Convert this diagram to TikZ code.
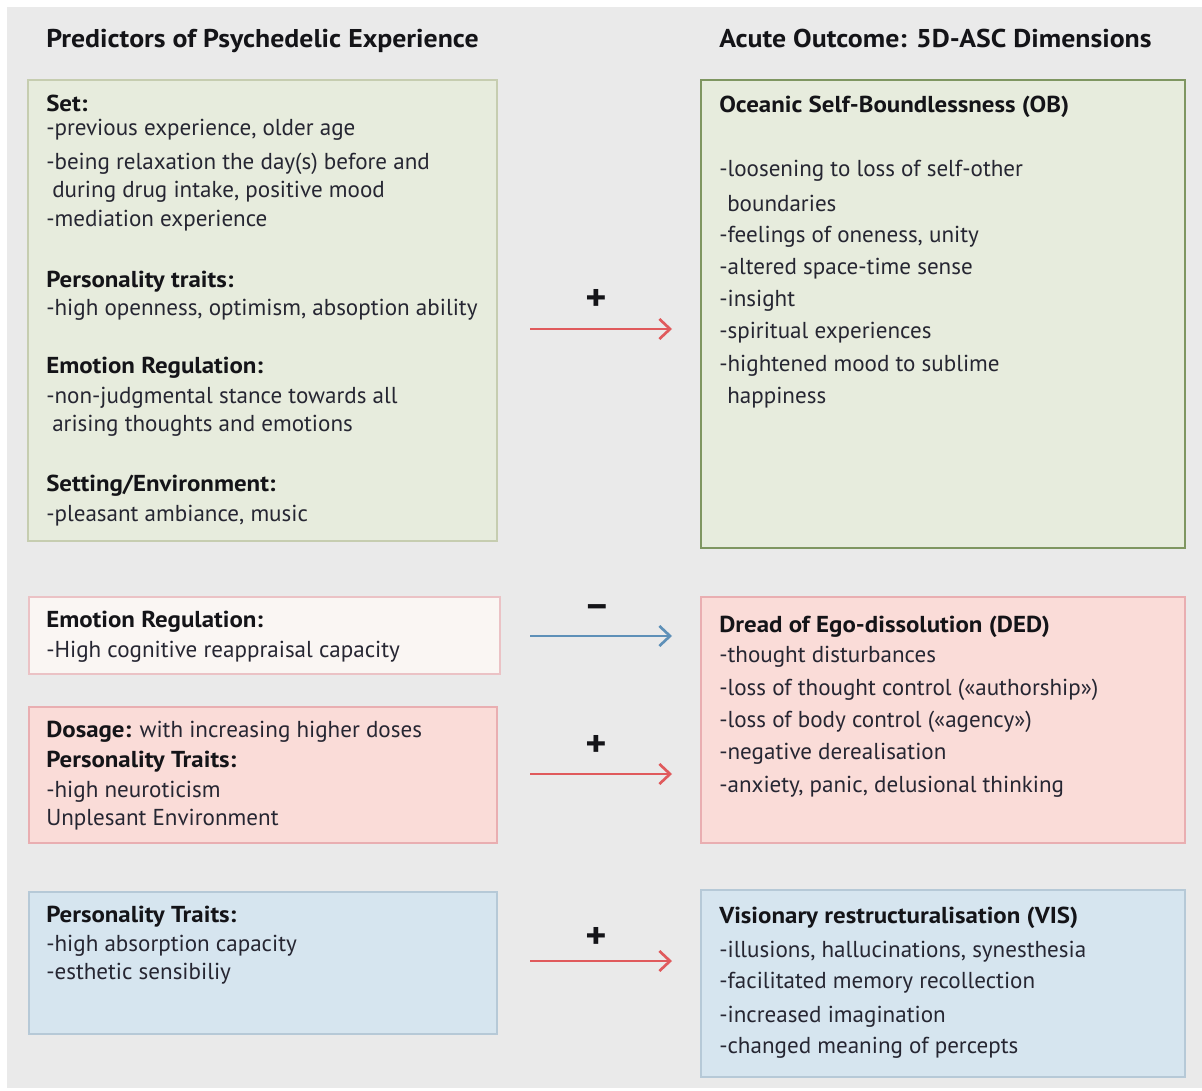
\documentclass[tikz,border=0pt]{standalone}
\usepackage{fontspec}
\setmainfont{PT Sans}[BoldFeatures={FakeStretch=1.08}]
\usetikzlibrary{arrows.meta,fit}

\definecolor{pagebg}{HTML}{EAEAEA}
\definecolor{greenfill}{HTML}{E7ECDD}
\definecolor{greenline}{HTML}{C6CDB0}
\definecolor{greendark}{HTML}{7F9661}
\definecolor{pinkfill}{HTML}{FADCD8}
\definecolor{pinkline}{HTML}{E9AEB1}
\definecolor{palefill}{HTML}{FAF6F3}
\definecolor{paleline}{HTML}{EBC2C5}
\definecolor{bluefill}{HTML}{D6E5EF}
\definecolor{blueline}{HTML}{B6C9D7}
\definecolor{bodytext}{HTML}{262632}
\definecolor{headtext}{HTML}{141418}
\definecolor{posred}{HTML}{E05A5C}
\definecolor{negblue}{HTML}{5E90B8}

\tikzset{
  box/.style={inner sep=0pt, line width=1.2pt},
  greenbox/.style={box, fill=greenfill, draw=greenline},
  obbox/.style={box, fill=greenfill, draw=greendark, line width=2pt},
  palebox/.style={box, fill=palefill, draw=paleline},
  pinkbox/.style={box, fill=pinkfill, draw=pinkline, line width=1.5pt},
  bluebox/.style={box, fill=bluefill, draw=blueline},
  txt/.style={anchor=base west, inner sep=0pt, text=bodytext,
    font=\fontsize{17.3}{20}\selectfont},
  hd/.style={txt, text=headtext, font=\fontsize{17.3}{20}\selectfont\bfseries},
  title/.style={anchor=base west, inner sep=0pt, text=headtext,
    font=\fontsize{19.3}{22}\selectfont\bfseries},
  sign/.style={inner sep=0pt, text=headtext, font=\fontsize{28}{30}\selectfont\bfseries},
  link/.style={line width=2pt, -{Straight Barb[length=8pt,width=15pt,line width=2pt]}},
  poslink/.style={link, draw=posred},
  neglink/.style={link, draw=negblue},
}

\begin{document}
\begin{tikzpicture}[x=0.75pt, y=-0.75pt]
\useasboundingbox (0,0) rectangle (1202,1091);
\fill[pagebg] (7,7) rectangle (1202,1088);

% column titles
\node[title] (tleft) at (46,48) {Predictors of Psychedelic Experience};
\node[title] (tright) at (719,48) {Acute Outcome: 5D-ASC Dimensions};

% boxes
\node[greenbox, fit={(28,80) (497,541)}] (setbox) {};
\node[obbox, fit={(701,80) (1185,548)}] (obox) {};
\node[palebox, fit={(29,597) (500,674)}] (erbox) {};
\node[pinkbox, fit={(29,707) (497,843)}] (dosebox) {};
\node[pinkbox, fit={(701,597) (1185,843)}] (dedbox) {};
\node[bluebox, fit={(29,892) (497,1034)}] (absbox) {};
\node[bluebox, fit={(701,890) (1185,1077)}] (visbox) {};

% predictors: set, traits, regulation, setting
\node[hd]  (s1)  at (46,112) {Set:};
\node[txt] (s2)  at (46,136) {-previous experience, older age};
\node[txt] (s3)  at (46,170) {-being relaxation the day(s) before and};
\node[txt] (s4)  at (52,198) {during drug intake, positive mood};
\node[txt] (s5)  at (46,227) {-mediation experience};
\node[hd]  (s6)  at (46,287) {Personality traits:};
\node[txt] (s7)  at (46,315) {-high openness, optimism, absoption ability};
\node[hd]  (s8)  at (46,373) {Emotion Regulation:};
\node[txt] (s9)  at (46,403) {-non-judgmental stance towards all};
\node[txt] (s10) at (52,431) {arising thoughts and emotions};
\node[hd]  (s11) at (46,491) {Setting/Environment:};
\node[txt] (s12) at (46,521) {-pleasant ambiance, music};

% oceanic self-boundlessness
\node[hd]  (o1) at (719,113) {Oceanic Self-Boundlessness (OB)};
\node[txt] (o2) at (719,177) {-loosening to loss of self-other};
\node[txt] (o3) at (727,212) {boundaries};
\node[txt] (o4) at (719,243) {-feelings of oneness, unity};
\node[txt] (o5) at (719,274) {-altered space-time sense};
\node[txt] (o6) at (719,306) {-insight};
\node[txt] (o7) at (719,338) {-spiritual experiences};
\node[txt] (o8) at (719,371) {-hightened mood to sublime};
\node[txt] (o9) at (727,403) {happiness};

% reappraisal
\node[hd]  (e1) at (46,627) {Emotion Regulation:};
\node[txt] (e2) at (46,657) {-High cognitive reappraisal capacity};

% dosage
\node[txt] (d1) at (46,737) {\textbf{\color{headtext}Dosage:} with increasing higher doses};
\node[hd]  (d2) at (46,767) {Personality Traits:};
\node[txt] (d3) at (46,797) {-high neuroticism};
\node[txt] (d4) at (46,825) {Unplesant Environment};

% dread of ego-dissolution
\node[hd]  (g1) at (719,632) {Dread of Ego-dissolution (DED)};
\node[txt] (g2) at (719,662) {-thought disturbances};
\node[txt] (g3) at (719,695) {-loss of thought control («authorship»)};
\node[txt] (g4) at (719,727) {-loss of body control («agency»)};
\node[txt] (g5) at (719,759) {-negative derealisation};
\node[txt] (g6) at (719,792) {-anxiety, panic, delusional thinking};

% absorption
\node[hd]  (a1) at (46,922) {Personality Traits:};
\node[txt] (a2) at (46,951) {-high absorption capacity};
\node[txt] (a3) at (46,979) {-esthetic sensibiliy};

% visionary restructuralisation
\node[hd]  (v1) at (719,923) {Visionary restructuralisation (VIS)};
\node[txt] (v2) at (719,957) {-illusions, hallucinations, synesthesia};
\node[txt] (v3) at (719,988) {-facilitated memory recollection};
\node[txt] (v4) at (719,1022) {-increased imagination};
\node[txt] (v5) at (719,1053) {-changed meaning of percepts};

% effect arrows
\coordinate (r1a) at (530,329); \coordinate (r1b) at (672,329);
\coordinate (r2a) at (530,636); \coordinate (r2b) at (672,636);
\coordinate (r3a) at (530,774); \coordinate (r3b) at (672,774);
\coordinate (r4a) at (530,961); \coordinate (r4b) at (672,961);
\draw[poslink] (r1a) -- (r1b);
\draw[neglink] (r2a) -- (r2b);
\draw[poslink] (r3a) -- (r3b);
\draw[poslink] (r4a) -- (r4b);
\node[sign] (p1) at (596,300) {+};
\node[sign] (p2) at (597,611) {--};
\node[sign] (p3) at (596,746) {+};
\node[sign] (p4) at (596,938) {+};
\end{tikzpicture}
\end{document}
